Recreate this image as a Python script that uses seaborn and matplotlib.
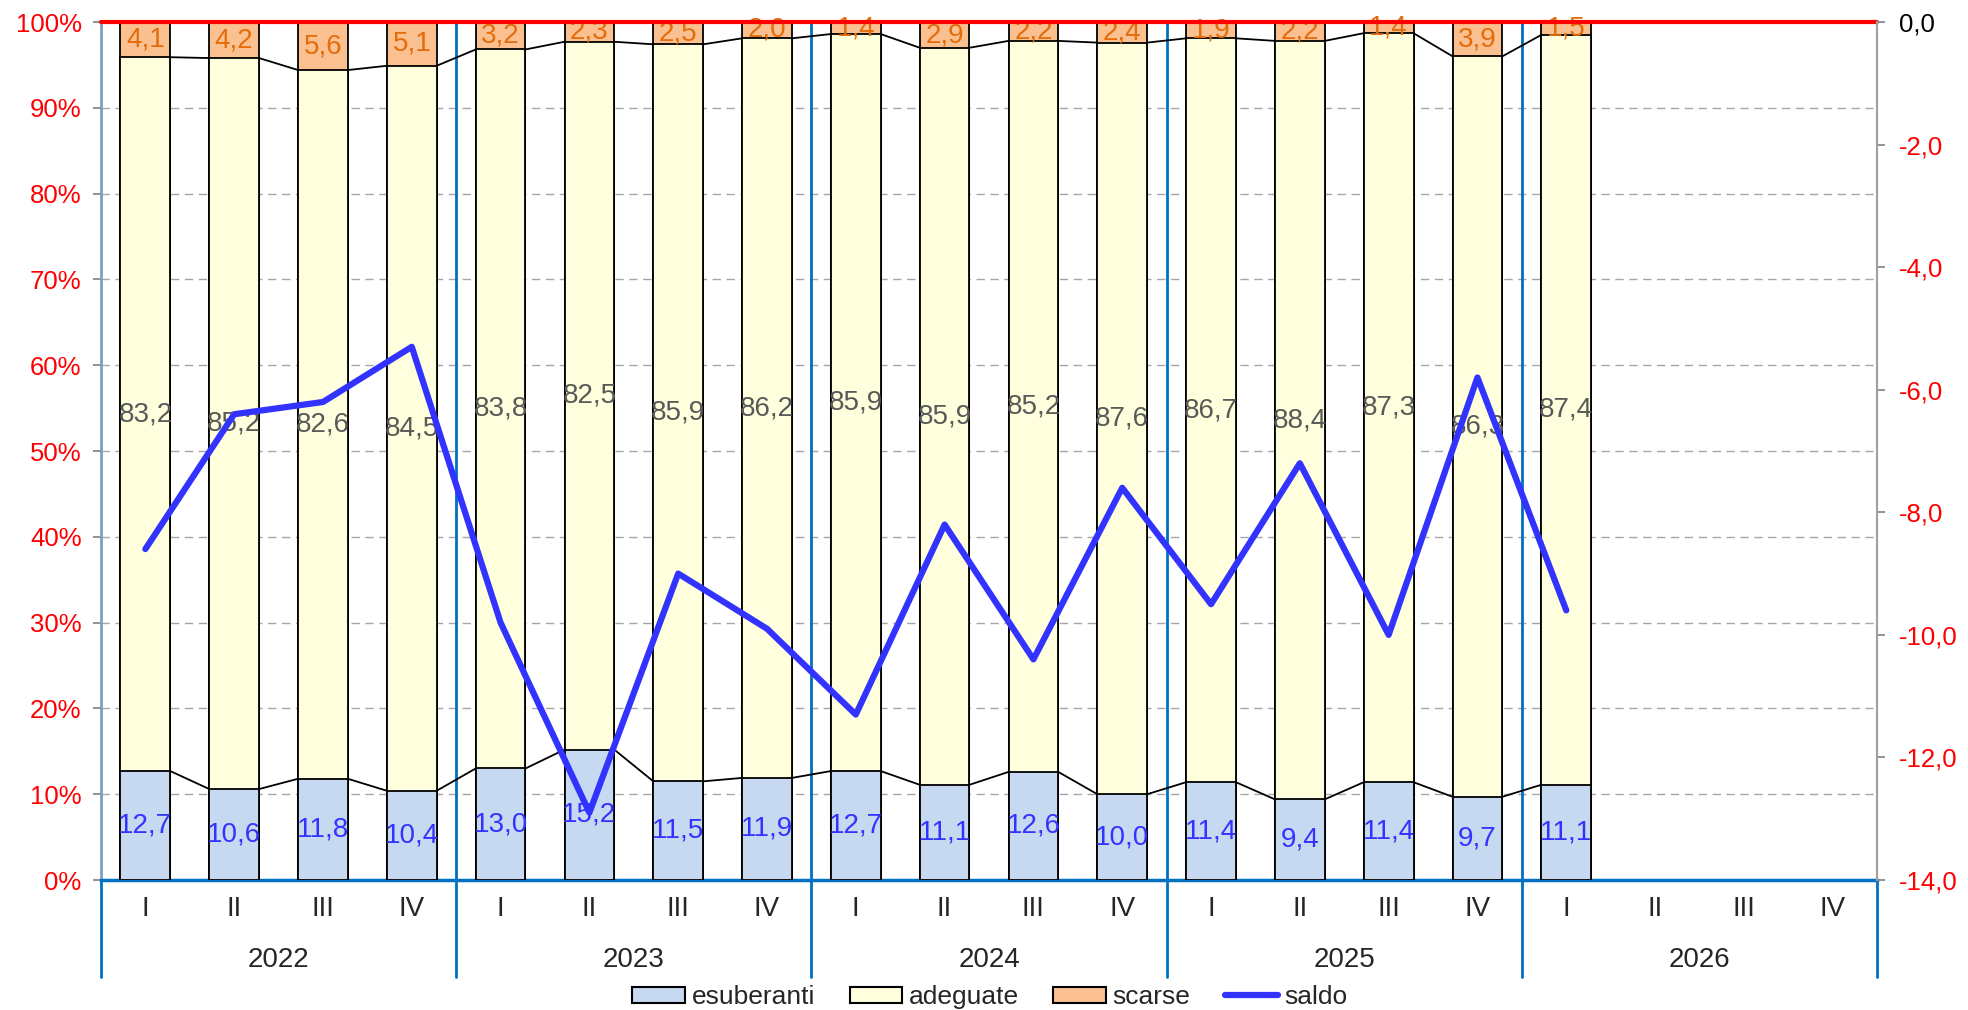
import matplotlib
matplotlib.use("Agg")
import matplotlib.pyplot as plt
from matplotlib.lines import Line2D
from matplotlib.patches import Patch
import numpy as np
import pandas as pd
import seaborn as sns

years = ["2022", "2023", "2024", "2025", "2026"]
quarters = ["I", "II", "III", "IV"]

esuberanti = [12.7, 10.6, 11.8, 10.4, 13.0, 15.2, 11.5, 11.9, 12.7, 11.1, 12.6, 10.0, 11.4, 9.4, 11.4, 9.7, 11.1]
adeguate = [83.2, 85.2, 82.6, 84.5, 83.8, 82.5, 85.9, 86.2, 85.9, 85.9, 85.2, 87.6, 86.7, 88.4, 87.3, 86.3, 87.4]
scarse = [4.1, 4.2, 5.6, 5.1, 3.2, 2.3, 2.5, 2.0, 1.4, 2.9, 2.2, 2.4, 1.9, 2.2, 1.4, 3.9, 1.5]
saldo = [-8.6, -6.4, -6.2, -5.3, -9.8, -12.9, -9.0, -9.9, -11.3, -8.2, -10.4, -7.6, -9.5, -7.2, -10.0, -5.8, -9.6]

C_ESUB = "#C6D9F1"
C_ADEG = "#FFFFDD"
C_SCAR = "#FAC090"
C_SALDO = "#3333FF"
C_BLUE = "#0070C0"
BAR_W = 0.56


def fmt(v):
    return f"{v:.1f}".replace(".", ",")


def main() -> None:
    sns.set_style("white")
    plt.rcParams["font.family"] = ["Liberation Sans", "DejaVu Sans"]

    slots = [f"{y} {q}" for y in years for q in quarters]
    n = len(esuberanti)
    df = pd.DataFrame({
        "slot": slots[:n],
        "esub": esuberanti,
        "adeg": adeguate,
        "scarse": scarse,
        "saldo": saldo,
    })
    df["mid"] = df["esub"] + df["adeg"]
    df["top"] = df["mid"] + df["scarse"]

    fig = plt.figure(figsize=(19.68, 10.10), dpi=100)
    ax = fig.add_axes([0.0513, 0.1287, 0.9025, 0.8495])

    # stacked bars drawn as overlays of cumulative heights
    for col, colour in [("top", C_SCAR), ("mid", C_ADEG), ("esub", C_ESUB)]:
        sns.barplot(data=df, x="slot", y=col, order=slots, ax=ax, color=colour,
                    saturation=1, width=BAR_W, edgecolor="black", linewidth=1.3,
                    errorbar=None, zorder=3)

    # series lines between bars
    pos = np.arange(n)
    for col in ["esub", "mid"]:
        vals = df[col].to_numpy()
        for i in range(n - 1):
            ax.plot([pos[i] + BAR_W / 2, pos[i + 1] - BAR_W / 2], [vals[i], vals[i + 1]],
                    color="black", lw=1.3, zorder=4)

    # data labels
    for i, row in df.iterrows():
        ax.text(i, row["esub"] / 2, fmt(row["esub"]), ha="center", va="center",
                fontsize=20, color=C_SALDO, zorder=5)
        ax.text(i, row["esub"] + row["adeg"] / 2, fmt(row["adeg"]), ha="center", va="center",
                fontsize=20, color="#595959", zorder=5)
        ax.text(i, row["mid"] + row["scarse"] / 2, fmt(row["scarse"]), ha="center", va="center",
                fontsize=20, color="#E46C0A", zorder=5)

    ax.set_xlim(-0.5, len(slots) - 0.5)
    ax.set_ylim(0, 100)
    ax.set_yticks(range(0, 101, 10))
    ax.set_yticklabels([f"{v}%" for v in range(0, 101, 10)], color="red", fontsize=18.5)
    ax.yaxis.grid(True, ls=(0, (6, 4)), color="#A6A6A6", lw=1)
    ax.set_axisbelow(True)
    ax.set_xlabel("")
    ax.set_ylabel("")

    ax.set_xticks(range(len(slots)))
    ax.set_xticklabels(quarters * len(years), fontsize=20)
    ax.set_xticks(np.arange(-0.5, len(slots), 1), minor=True)
    ax.tick_params(axis="x", which="major", length=0, pad=11.5)
    ax.tick_params(axis="x", which="minor", length=34.5, width=2, color=C_BLUE, direction="out")
    ax.tick_params(axis="y", length=6, width=1.2, color="#808080", direction="out", pad=8, left=True)

    ax.spines["top"].set_visible(False)
    ax.spines["right"].set_visible(False)
    ax.spines["left"].set_color("#7F9FBF")
    ax.spines["left"].set_linewidth(2)
    ax.spines["bottom"].set_color(C_BLUE)
    ax.spines["bottom"].set_linewidth(2.5)

    # year separators and labels
    xt = ax.get_xaxis_transform()
    for k, y in enumerate(years):
        b = k * 4 - 0.5
        if k > 0:
            ax.axvline(b, color=C_BLUE, lw=2, zorder=2)
        ax.plot([b, b], [0, -0.113], transform=xt, color=C_BLUE, lw=2, clip_on=False)
        ax.text(k * 4 + 1.5, -0.093, y, transform=xt, ha="center", va="center", fontsize=20)
    end = len(slots) - 0.5
    ax.plot([end, end], [0, -0.113], transform=xt, color=C_BLUE, lw=2, clip_on=False)

    ax.axhline(100, color="red", lw=3, zorder=6, clip_on=False)

    # saldo on the secondary axis
    ax2 = ax.twinx()
    sns.lineplot(x=pos, y=df["saldo"], ax=ax2, color=C_SALDO, lw=4.5, zorder=7)
    ax2.set_ylim(-14, 0)
    ax2.set_xlim(-0.5, len(slots) - 0.5)
    ticks = list(range(-14, 1, 2))
    ax2.set_yticks(ticks)
    ax2.set_yticklabels([fmt(t) for t in ticks], fontsize=18.5)
    for lab, t in zip(ax2.get_yticklabels(), ticks):
        lab.set_color("black" if t == 0 else "red")
    ax2.tick_params(axis="y", length=6, width=1.2, color="#808080", direction="out", pad=10, right=True)
    ax2.set_ylabel("")
    for s in ["top", "left", "bottom"]:
        ax2.spines[s].set_visible(False)
    ax2.spines["right"].set_color("#A0A0A0")
    ax2.spines["right"].set_linewidth(1.5)

    handles = [
        Patch(facecolor=C_ESUB, edgecolor="black", lw=1.5, label="esuberanti"),
        Patch(facecolor=C_ADEG, edgecolor="black", lw=1.5, label="adeguate"),
        Patch(facecolor=C_SCAR, edgecolor="black", lw=1.5, label="scarse"),
        Line2D([], [], color=C_SALDO, lw=4.5, label="saldo"),
    ]
    fig.legend(handles=handles, loc="center", bbox_to_anchor=(0.503, 0.0129), ncol=4,
               frameon=False, fontsize=19, handlelength=2.0, handleheight=0.55,
               handletextpad=0.25, columnspacing=1.3, borderpad=0)

    fig.savefig("out.png", dpi=100)
    plt.close(fig)


if __name__ == "__main__":
    main()
